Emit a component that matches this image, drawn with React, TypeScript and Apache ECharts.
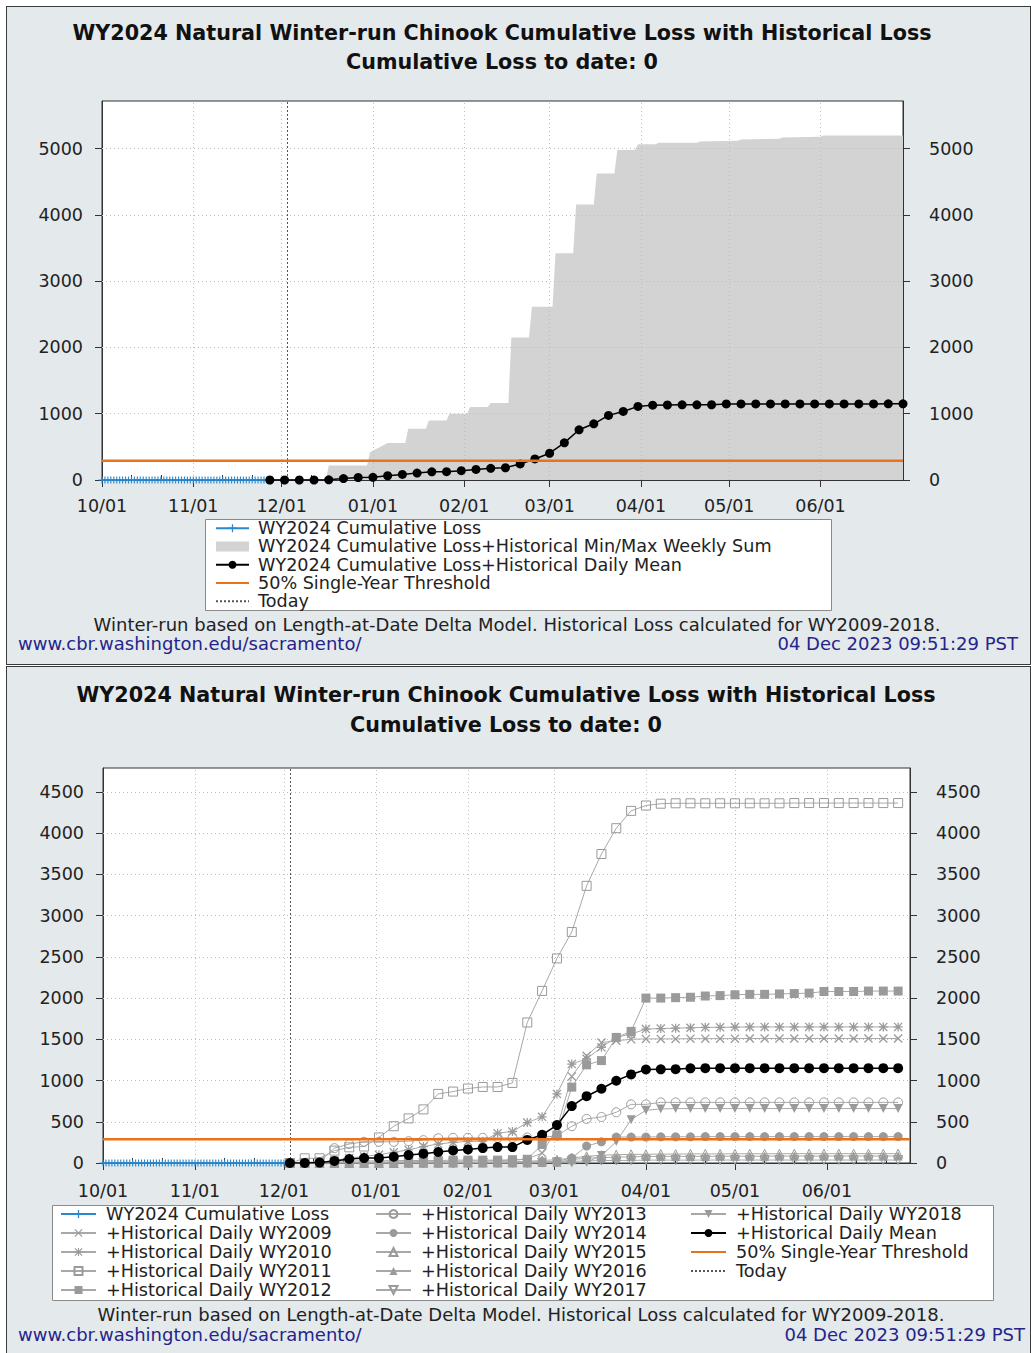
import React, { useEffect, useRef } from 'react';
import * as echarts from 'echarts';

// ---------------- text ----------------
const titleLine1 = 'WY2024 Natural Winter-run Chinook Cumulative Loss with Historical Loss';
const titleLine2 = 'Cumulative Loss to date: 0';
const footNote = 'Winter-run based on Length-at-Date Delta Model. Historical Loss calculated for WY2009-2018.';
const siteUrl = 'www.cbr.washington.edu/sacramento/';
const stamp = '04 Dec 2023 09:51:29 PST';

// ---------------- axes ----------------
const axisStart = '2023-10-01';
const axisEnd = '2024-06-29';
const todayDate = '2023-12-03';
const monthTicks = ['2023-10-01', '2023-11-01', '2023-12-01', '2024-01-01', '2024-02-01', '2024-03-01', '2024-04-01', '2024-05-01', '2024-06-01'];
const monthLabels = ['10/01', '11/01', '12/01', '01/01', '02/01', '03/01', '04/01', '05/01', '06/01'];
const minorTicks = ['2023-10-11', '2023-10-21', '2023-11-11', '2023-11-21', '2023-12-11', '2023-12-21', '2024-01-11', '2024-01-21', '2024-02-11', '2024-02-21', '2024-03-11', '2024-03-21', '2024-04-11', '2024-04-21', '2024-05-11', '2024-05-21', '2024-06-11', '2024-06-21'];
const yTicksTop = [0, 1000, 2000, 3000, 4000, 5000];
const yMaxTop = 5720;
const yTicksBottom = [0, 500, 1000, 1500, 2000, 2500, 3000, 3500, 4000, 4500];
const yMaxBottom = 4790;
const thresholdValue = 289;

// ---------------- top chart data ----------------
const wy2024TopStart = '2023-10-01';
const wy2024TopLoss = [
  0, 0, 0, 0, 0, 0, 0, 0, 0, 0,
  0, 0, 0, 0, 0, 0, 0, 0, 0, 0,
  0, 0, 0, 0, 0, 0, 0, 0, 0, 0,
  0, 0, 0, 0, 0, 0, 0, 0, 0, 0,
  0, 0, 0, 0, 0, 0, 0, 0, 0, 0,
  0, 0, 0, 0, 0, 0, 0,
];
const bandDates = ['2023-12-16', '2023-12-17', '2023-12-30', '2023-12-31', '2024-01-06', '2024-01-12', '2024-01-13', '2024-01-19', '2024-01-20', '2024-01-26', '2024-01-27', '2024-02-02', '2024-02-03', '2024-02-09', '2024-02-10', '2024-02-16', '2024-02-17', '2024-02-23', '2024-02-24', '2024-03-02', '2024-03-03', '2024-03-09', '2024-03-10', '2024-03-16', '2024-03-17', '2024-03-23', '2024-03-24', '2024-03-30', '2024-03-31', '2024-04-06', '2024-04-07', '2024-04-20', '2024-04-21', '2024-05-04', '2024-05-05', '2024-05-18', '2024-05-19', '2024-06-01', '2024-06-02', '2024-06-29'];
const bandMax = [0, 217, 217, 419, 560, 560, 773, 773, 899, 899, 1000, 1000, 1101, 1101, 1162, 1162, 2152, 2152, 2616, 2616, 3424, 3424, 4157, 4157, 4626, 4626, 4980, 4980, 5066, 5066, 5090, 5090, 5110, 5120, 5140, 5150, 5170, 5180, 5200, 5200];
const topMeanDates = ['2023-11-27', '2023-12-02', '2023-12-07', '2023-12-12', '2023-12-17', '2023-12-22', '2023-12-27', '2024-01-01', '2024-01-06', '2024-01-11', '2024-01-16', '2024-01-21', '2024-01-26', '2024-01-31', '2024-02-05', '2024-02-10', '2024-02-15', '2024-02-20', '2024-02-25', '2024-03-01', '2024-03-06', '2024-03-11', '2024-03-16', '2024-03-21', '2024-03-26', '2024-03-31', '2024-04-05', '2024-04-10', '2024-04-15', '2024-04-20', '2024-04-25', '2024-04-30', '2024-05-05', '2024-05-10', '2024-05-15', '2024-05-20', '2024-05-25', '2024-05-30', '2024-06-04', '2024-06-09', '2024-06-14', '2024-06-19', '2024-06-24', '2024-06-29'];
const topMeanLoss = [0, 0, 0, 0, 3, 22, 38, 40, 64, 84, 104, 124, 126, 140, 160, 176, 185, 242, 318, 404, 561, 758, 848, 975, 1035, 1111, 1130, 1132, 1134, 1134, 1136, 1148, 1148, 1148, 1148, 1148, 1148, 1148, 1148, 1148, 1148, 1148, 1150, 1150];

// ---------------- bottom chart data ----------------
const wy2024BottomStart = '2023-10-01';
const wy2024BottomLoss = [
  0, 0, 0, 0, 0, 0, 0, 0, 0, 0,
  0, 0, 0, 0, 0, 0, 0, 0, 0, 0,
  0, 0, 0, 0, 0, 0, 0, 0, 0, 0,
  0, 0, 0, 0, 0, 0, 0, 0, 0, 0,
  0, 0, 0, 0, 0, 0, 0, 0, 0, 0,
  0, 0, 0, 0, 0, 0, 0, 0, 0, 0,
  0, 0, 0,
];
const bottomDates = ['2023-12-03', '2023-12-08', '2023-12-13', '2023-12-18', '2023-12-23', '2023-12-28', '2024-01-02', '2024-01-07', '2024-01-12', '2024-01-17', '2024-01-22', '2024-01-27', '2024-02-01', '2024-02-06', '2024-02-11', '2024-02-16', '2024-02-21', '2024-02-26', '2024-03-02', '2024-03-07', '2024-03-12', '2024-03-17', '2024-03-22', '2024-03-27', '2024-04-01', '2024-04-06', '2024-04-11', '2024-04-16', '2024-04-21', '2024-04-26', '2024-05-01', '2024-05-06', '2024-05-11', '2024-05-16', '2024-05-21', '2024-05-26', '2024-05-31', '2024-06-05', '2024-06-10', '2024-06-15', '2024-06-20', '2024-06-25'];
const wy2009 = [0, 0, 0, 5, 10, 10, 10, 15, 15, 20, 20, 20, 25, 25, 30, 30, 50, 120, 420, 1050, 1300, 1460, 1483, 1500, 1505, 1505, 1505, 1508, 1508, 1508, 1508, 1510, 1510, 1510, 1510, 1510, 1510, 1510, 1510, 1510, 1510, 1510];
const wy2010 = [0, 0, 10, 30, 60, 80, 100, 130, 160, 200, 230, 250, 262, 265, 362, 382, 490, 560, 838, 1200, 1263, 1403, 1523, 1564, 1624, 1630, 1635, 1640, 1645, 1645, 1648, 1650, 1650, 1650, 1650, 1650, 1650, 1650, 1650, 1650, 1650, 1650];
const wy2011 = [0, 57, 57, 150, 190, 200, 310, 446, 541, 650, 838, 866, 903, 922, 922, 971, 1704, 2087, 2481, 2802, 3361, 3747, 4060, 4270, 4335, 4357, 4362, 4362, 4362, 4362, 4362, 4362, 4362, 4362, 4365, 4365, 4365, 4365, 4365, 4365, 4365, 4365];
const wy2012 = [0, 5, 15, 20, 25, 25, 25, 30, 30, 30, 30, 35, 35, 35, 35, 40, 45, 225, 340, 920, 1190, 1242, 1523, 1596, 2000, 2000, 2005, 2010, 2025, 2030, 2040, 2045, 2045, 2050, 2055, 2060, 2080, 2080, 2080, 2085, 2085, 2085];
const wy2013 = [0, 0, 10, 180, 230, 257, 257, 257, 265, 277, 300, 305, 305, 305, 305, 305, 310, 310, 330, 446, 535, 558, 615, 711, 711, 735, 735, 735, 735, 735, 735, 735, 735, 735, 735, 735, 735, 735, 735, 735, 735, 735];
const wy2014 = [0, 0, 0, 0, 0, 0, 0, 0, 0, 0, 0, 0, 5, 5, 10, 10, 15, 15, 20, 60, 205, 257, 315, 315, 315, 318, 318, 318, 320, 320, 320, 320, 320, 320, 320, 320, 320, 320, 320, 320, 320, 320];
const wy2015 = [0, 0, 0, 0, 0, 0, 0, 0, 5, 5, 5, 10, 10, 10, 15, 15, 20, 30, 40, 60, 80, 95, 100, 105, 105, 108, 108, 110, 110, 110, 112, 112, 112, 112, 113, 113, 113, 113, 113, 113, 113, 113];
const wy2016 = [0, 0, 0, 0, 0, 0, 0, 0, 0, 0, 0, 0, 0, 0, 0, 0, 0, 5, 10, 40, 60, 65, 70, 75, 78, 80, 80, 80, 80, 82, 82, 82, 82, 84, 84, 84, 84, 84, 84, 84, 84, 84];
const wy2017 = [0, 0, 0, 0, 0, 0, 0, 0, 0, 0, 0, 0, 0, 0, 0, 0, 0, 5, 10, 20, 25, 30, 30, 32, 35, 35, 35, 35, 36, 36, 36, 36, 36, 36, 36, 36, 36, 36, 36, 36, 36, 36];
const wy2018 = [0, 0, 0, 0, 0, 0, 0, 0, 0, 0, 0, 0, 0, 0, 0, 0, 0, 0, 0, 0, 10, 90, 260, 525, 640, 655, 660, 660, 660, 660, 660, 660, 660, 660, 660, 660, 660, 660, 660, 660, 660, 660];
const bottomMean = [0, 0, 5, 25, 48, 60, 60, 76, 96, 113, 133, 153, 165, 181, 193, 193, 280, 342, 460, 690, 810, 900, 997, 1074, 1134, 1136, 1138, 1148, 1150, 1150, 1150, 1150, 1150, 1150, 1150, 1150, 1150, 1150, 1150, 1150, 1150, 1150];

// ---------------- styles ----------------
const FONT = 'DejaVu Sans';
const BG = '#e4e9ec';
const BLUE = '#2a88cc';
const ORANGE = '#e8731b';
const GRAY_LINE = '#a8a8a8';
const GRAY_MARK = '#9a9a9a';
const BAND = '#d3d3d3';
const AXIS = '#333';
const TXT = '#222';
const NAVY = '#26248a';
const LABEL_SIZE = 17.5;
const LEGEND_SIZE = 17.6;
const NOTE_SIZE = 18;

const PLUS = 'path://M4.2,0H5.8V4.2H10V5.8H5.8V10H4.2V5.8H0V4.2H4.2Z';
const CROSS = 'path://M0,1L1,0L10,9L9,10Z M9,0L10,1L1,10L0,9Z';
const STAR = 'path://M0,1L1,0L10,9L9,10Z M9,0L10,1L1,10L0,9Z M4.3,0H5.7V10H4.3Z M0,4.3H10V5.7H0Z';
const TRI_DOWN = 'path://M0,0L10,0L5,9Z';

const N_WY2024 = 'WY2024 Cumulative Loss';
const N_BAND = 'WY2024 Cumulative Loss+Historical Min/Max Weekly Sum';
const N_TOPMEAN = 'WY2024 Cumulative Loss+Historical Daily Mean';
const N_THRESH = '50% Single-Year Threshold';
const N_TODAY = 'Today';
const N_MEAN = '+Historical Daily Mean';

const ts = (s: string) => {
  const [y, m, d] = s.split('-').map(Number);
  return new Date(y, m - 1, d).getTime();
};
const daily = (start: string, values: number[]) => {
  const [y, m, d] = start.split('-').map(Number);
  return values.map((v, i) => [new Date(y, m - 1, d + i).getTime(), v]);
};
const pairs = (dates: string[], values: number[]) => dates.map((d, i) => [ts(d), values[i]]);

const monthTs = monthTicks.map(ts);

function xAxes(labelMargin: number) {
  return [
    {
      type: 'value', min: ts(axisStart), max: ts(axisEnd), position: 'bottom',
      axisLine: { show: true, lineStyle: { color: AXIS, width: 1 } },
      axisTick: { show: true, length: 7, customValues: monthTs, lineStyle: { color: AXIS } },
      axisLabel: {
        customValues: monthTs, margin: labelMargin, fontFamily: FONT, fontSize: LABEL_SIZE, color: TXT,
        formatter: (v: number) => { const i = monthTs.indexOf(v); return i >= 0 ? monthLabels[i] : ''; },
      },
      splitLine: { show: false },
    },
    {
      type: 'value', min: ts(axisStart), max: ts(axisEnd), position: 'bottom',
      axisLine: { show: false },
      axisTick: { show: true, inside: true, length: 5, customValues: minorTicks.map(ts), lineStyle: { color: AXIS } },
      axisLabel: { show: false },
      splitLine: { show: false },
    },
  ];
}

function yAxes(max: number, ticks: number[]) {
  const base = (pos: string, margin: number) => ({
    type: 'value', min: 0, max, position: pos,
    axisLine: { show: true, lineStyle: { color: AXIS } },
    axisTick: { show: true, length: 7, customValues: ticks, lineStyle: { color: AXIS } },
    axisLabel: {
      customValues: ticks, margin, fontFamily: FONT, fontSize: LABEL_SIZE, color: TXT,
      formatter: (v: number) => String(v),
    },
    splitLine: { show: false },
  });
  return [base('left', 19), base('right', 26)];
}

function gridLineSeries(ticks: number[]) {
  return {
    type: 'line', name: 'gridlines', data: [], silent: true,
    markLine: {
      z: 1.5, silent: true, symbol: ['none', 'none'], label: { show: false }, emphasis: { disabled: true },
      lineStyle: { color: '#bdbdbd', type: [1, 3], width: 1 },
      data: [
        ...monthTicks.slice(1).map((m) => ({ xAxis: ts(m) })),
        ...ticks.slice(1).map((v) => ({ yAxis: v })),
      ],
    },
  };
}

function thresholdSeries() {
  return {
    type: 'line', name: N_THRESH, data: [[ts(axisStart), thresholdValue], [ts(axisEnd), thresholdValue]],
    symbol: 'none', lineStyle: { color: ORANGE, width: 2.5 }, itemStyle: { color: ORANGE }, z: 4, silent: true,
  };
}

function todaySeries() {
  return {
    type: 'line', name: N_TODAY, data: [], symbol: 'none', silent: true,
    lineStyle: { color: '#555', type: [2, 2], width: 1 }, itemStyle: { color: '#555' },
    markLine: {
      z: 3, silent: true, symbol: ['none', 'none'], label: { show: false }, emphasis: { disabled: true },
      lineStyle: { color: '#555', type: [2, 2], width: 1 },
      data: [{ xAxis: ts(todayDate) }],
    },
  };
}

function wy2024Series(start: string, values: number[]) {
  return {
    type: 'line', name: N_WY2024, data: daily(start, values), symbol: PLUS, symbolSize: 7, showAllSymbol: true,
    lineStyle: { color: BLUE, width: 1.5 }, itemStyle: { color: BLUE }, z: 3, silent: true,
  };
}

function texts(cx: number, t1y: number, t2y: number, noteX: number, noteY: number, urlY: number, stampX: number) {
  const tf = `bold 20.7px "${FONT}"`;
  const nf = `${NOTE_SIZE}px "${FONT}"`;
  return [
    { type: 'text', x: cx, y: t1y, silent: true, style: { text: titleLine1, font: tf, fill: '#111', align: 'center', verticalAlign: 'middle' } },
    { type: 'text', x: cx, y: t2y, silent: true, style: { text: titleLine2, font: tf, fill: '#111', align: 'center', verticalAlign: 'middle' } },
    { type: 'text', x: noteX, y: noteY, silent: true, style: { text: footNote, font: nf, fill: TXT, align: 'center', verticalAlign: 'middle' } },
    { type: 'text', x: 11, y: urlY, silent: true, style: { text: siteUrl, font: nf, fill: NAVY, align: 'left', verticalAlign: 'middle' } },
    { type: 'text', x: stampX, y: urlY, silent: true, style: { text: stamp, font: nf, fill: NAVY, align: 'right', verticalAlign: 'middle' } },
  ];
}

const hiddenIcon = { color: 'transparent', borderColor: 'transparent', borderWidth: 0, opacity: 0 };

function legendBase(left: number, top: number, lineHeight: number, itemWidth: number, gap: number, data: any[]) {
  return {
    orient: 'vertical', left, top, padding: 0, itemGap: 0, itemWidth, itemHeight: 10, z: 5,
    selectedMode: false,
    textStyle: { fontFamily: FONT, fontSize: LEGEND_SIZE, color: TXT, lineHeight, padding: [0, 0, 0, gap] },
    data,
  };
}

const topOption = {
  animation: false,
  backgroundColor: 'transparent',
  textStyle: { fontFamily: FONT },
  grid: { left: 95, top: 94, width: 801, height: 379, show: true, backgroundColor: '#fff', borderColor: AXIS, borderWidth: 1 },
  xAxis: xAxes(17),
  yAxis: yAxes(yMaxTop, yTicksTop),
  legend: [
    legendBase(208, 512, 18.3, 33, 4, [
      { name: N_WY2024 },
      { name: N_BAND, icon: 'rect', itemStyle: { color: BAND } },
      { name: N_TOPMEAN },
      { name: N_THRESH, itemStyle: hiddenIcon },
      { name: N_TODAY, itemStyle: hiddenIcon },
    ]),
  ],
  graphic: [
    { type: 'rect', silent: true, z: 0, shape: { x: 198.5, y: 512.5, width: 626, height: 91 }, style: { fill: '#fff', stroke: '#8a8a8a', lineWidth: 1 } },
    ...texts(495, 26, 55, 510, 617, 636, 1011),
  ],
  series: [
    {
      type: 'line', name: N_BAND, data: pairs(bandDates, bandMax), symbol: 'none', silent: true, z: 1,
      lineStyle: { color: BAND, width: 0 }, itemStyle: { color: BAND }, areaStyle: { color: BAND, opacity: 1 },
    },
    gridLineSeries(yTicksTop),
    wy2024Series(wy2024TopStart, wy2024TopLoss),
    {
      type: 'line', name: N_TOPMEAN, data: pairs(topMeanDates, topMeanLoss), symbol: 'circle', symbolSize: 9,
      lineStyle: { color: '#000', width: 1.5 }, itemStyle: { color: '#000' }, z: 3, silent: true,
    },
    thresholdSeries(),
    todaySeries(),
  ],
};

function hist(name: string, values: number[], symbol: string, filled: boolean) {
  return {
    type: 'line', name, data: pairs(bottomDates, values), symbol, symbolSize: 9, showAllSymbol: true, silent: true, z: 2,
    lineStyle: { color: GRAY_LINE, width: 1 },
    itemStyle: filled ? { color: GRAY_MARK, borderWidth: 0 } : { color: 'transparent', borderColor: GRAY_MARK, borderWidth: 1 },
  };
}

const histDefs: [string, number[], string, boolean][] = [
  ['+Historical Daily WY2009', wy2009, CROSS, true],
  ['+Historical Daily WY2010', wy2010, STAR, true],
  ['+Historical Daily WY2011', wy2011, 'rect', false],
  ['+Historical Daily WY2012', wy2012, 'rect', true],
  ['+Historical Daily WY2013', wy2013, 'circle', false],
  ['+Historical Daily WY2014', wy2014, 'circle', true],
  ['+Historical Daily WY2015', wy2015, 'triangle', false],
  ['+Historical Daily WY2016', wy2016, 'triangle', true],
  ['+Historical Daily WY2017', wy2017, TRI_DOWN, false],
  ['+Historical Daily WY2018', wy2018, TRI_DOWN, true],
];

const bottomOption = {
  animation: false,
  backgroundColor: 'transparent',
  textStyle: { fontFamily: FONT },
  grid: { left: 96, top: 101, width: 807, height: 395, show: true, backgroundColor: '#fff', borderColor: AXIS, borderWidth: 1 },
  xAxis: xAxes(19),
  yAxis: yAxes(yMaxBottom, yTicksBottom),
  legend: [
    legendBase(53, 537.5, 19, 35, 5, [N_WY2024, ...histDefs.slice(0, 4).map((h) => h[0])].map((n) => ({ name: n }))),
    legendBase(368, 537.5, 19, 35, 5, histDefs.slice(4, 9).map((h) => ({ name: h[0] }))),
    legendBase(683, 537.5, 19, 35, 5, [
      { name: histDefs[9][0] },
      { name: N_MEAN },
      { name: N_THRESH, itemStyle: hiddenIcon },
      { name: N_TODAY, itemStyle: hiddenIcon },
    ]),
  ],
  graphic: [
    { type: 'rect', silent: true, z: 0, shape: { x: 45.5, y: 538.5, width: 941, height: 95 }, style: { fill: '#fff', stroke: '#8a8a8a', lineWidth: 1 } },
    ...texts(499, 28, 58, 514, 647, 667, 1018),
  ],
  series: [
    gridLineSeries(yTicksBottom),
    wy2024Series(wy2024BottomStart, wy2024BottomLoss),
    ...histDefs.map((h) => hist(h[0], h[1], h[2], h[3])),
    {
      type: 'line', name: N_MEAN, data: pairs(bottomDates, bottomMean), symbol: 'circle', symbolSize: 10,
      lineStyle: { color: '#000', width: 1.5 }, itemStyle: { color: '#000' }, z: 3, silent: true,
    },
    thresholdSeries(),
    todaySeries(),
  ],
};

function Chart({ option, width, height }: { option: any; width: number; height: number }) {
  const ref = useRef<HTMLDivElement>(null);
  useEffect(() => {
    const chart = echarts.init(ref.current as HTMLDivElement, null, { renderer: 'svg', width, height });
    chart.setOption(option);
    return () => chart.dispose();
  }, []);
  return <div ref={ref} style={{ width, height, position: 'absolute', left: 0, top: 0 }} />;
}

export default function App() {
  const panel = (top: number, height: number): React.CSSProperties => ({
    position: 'absolute', left: 6, top, width: 1025, height, boxSizing: 'border-box',
    border: '1px solid #3a3a3a', background: BG, overflow: 'hidden',
  });
  return (
    <div style={{ position: 'fixed', left: 0, top: 0, width: 1031, height: 1353, overflow: 'hidden', background: '#fff' }}>
      <div style={panel(6, 659)}>
        <Chart option={topOption} width={1023} height={657} />
      </div>
      <div style={panel(666, 700)}>
        <Chart option={bottomOption} width={1023} height={698} />
      </div>
    </div>
  );
}
